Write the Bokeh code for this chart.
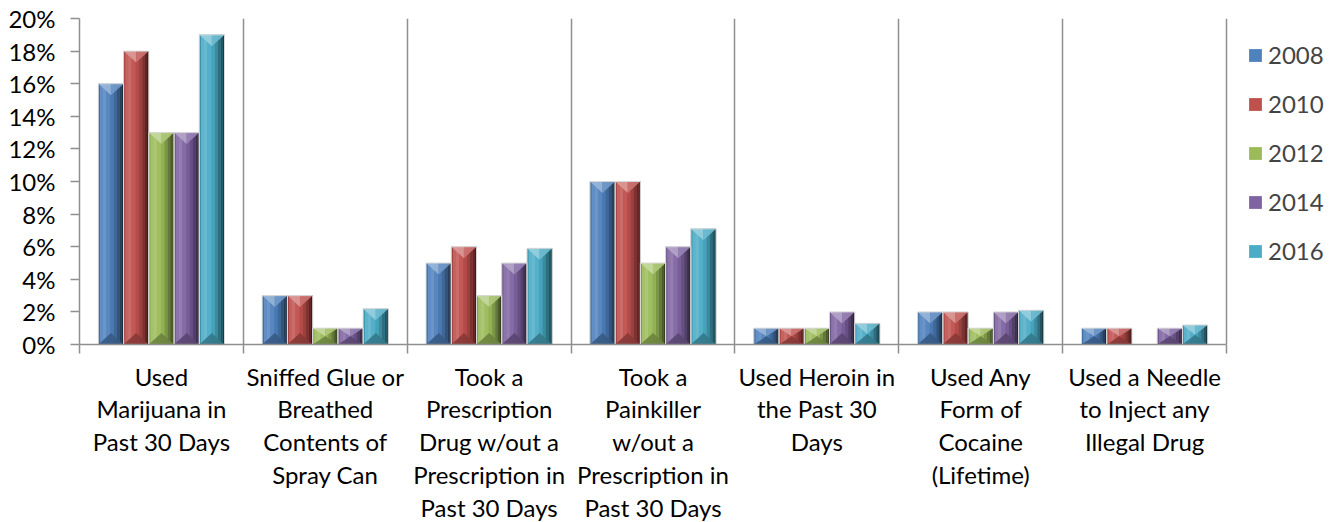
import numpy as np
from bokeh.plotting import figure
from bokeh.models import ColumnDataSource, FixedTicker, Legend, LegendItem
from bokeh.embed import file_html
from bokeh.resources import INLINE

# ---------------- data ----------------
categories = [
    "Used\nMarijuana in\nPast 30 Days",
    "Sniffed Glue or\nBreathed\nContents of\nSpray Can",
    "Took a\nPrescription\nDrug w/out a\nPrescription in\nPast 30 Days",
    "Took a\nPainkiller\nw/out a\nPrescription in\nPast 30 Days",
    "Used Heroin in\nthe Past 30\nDays",
    "Used Any\nForm of\nCocaine\n(Lifetime)",
    "Used a Needle\nto Inject any\nIllegal Drug",
]
years = ["2008", "2010", "2012", "2014", "2016"]
v2008 = [16, 3, 5, 10, 1, 2, 1]
v2010 = [18, 3, 6, 10, 1, 2, 1]
v2012 = [13, 1, 3, 5, 1, 1, 0]
v2014 = [13, 1, 5, 6, 2, 2, 1]
v2016 = [19, 2.2, 5.9, 7.1, 1.3, 2.1, 1.2]
series = [v2008, v2010, v2012, v2014, v2016]
colors = ["#4F81BD", "#C0504D", "#9BBB59", "#8064A2", "#4BACC6"]
y_ticks = list(range(0, 21, 2))

FONT = "Lato"
FS = "24px"
GRAY = "#8f8f8f"
CAT_PX = 1147          # pixel width of the 7 category slots
FW, FH = 1246, 326     # frame incl. room for the legend on the right
NCAT = len(categories)
x_end = -0.5 + FW / CAT_PX * NCAT


def blend(hexc, t):
    r, g, b = (int(hexc[i:i + 2], 16) for i in (1, 3, 5))
    if t >= 0:
        r, g, b = (c + (255 - c) * t for c in (r, g, b))
    else:
        r, g, b = (c * (1 + t) for c in (r, g, b))
    return "#%02x%02x%02x" % tuple(int(round(max(0, min(255, c)))) for c in (r, g, b))


p = figure(
    frame_width=FW, frame_height=FH,
    x_range=(-0.5, x_end), y_range=(0, 20),
    output_backend="svg", toolbar_location=None,
    min_border_left=79, min_border_top=18, min_border_right=0, min_border_bottom=0,
    outline_line_color=None, background_fill_color="white",
)

bar_w = 0.154
n = len(series)
strip_edges = [0, 0.07, 0.18, 0.32, 0.48, 0.62, 0.74, 0.85, 0.93, 1.0]
strip_shade = [-0.15, 0.10, 0.16, 0.05, -0.06, -0.2, -0.36, -0.52, -0.66]
tri_px = 11.5
y_per_px = 20 / float(FH)

legend_items = []
sx0, sx1, sy1, scol = [], [], [], []
txs, tys, tcol = [], [], []
for j, (vals, col) in enumerate(zip(series, colors)):
    xs = [i + (j - (n - 1) / 2) * bar_w for i in range(len(vals))]
    keep = [k for k, v in enumerate(vals) if v > 0]
    src = ColumnDataSource(dict(
        left=[xs[k] - bar_w / 2 for k in keep],
        right=[xs[k] + bar_w / 2 for k in keep],
        top=[vals[k] for k in keep],
    ))
    r = p.quad(left="left", right="right", bottom=0, top="top", source=src,
               fill_color=col, line_color=None)
    legend_items.append(LegendItem(label=years[j], renderers=[r]))
    for k in keep:
        v = vals[k]
        l = xs[k] - bar_w / 2
        for s in range(len(strip_shade)):
            sx0.append(l + strip_edges[s] * bar_w)
            sx1.append(l + strip_edges[s + 1] * bar_w)
            sy1.append(v)
            scol.append(blend(col, strip_shade[s]))
        h = min(tri_px * y_per_px, v / 2)
        rr = l + bar_w
        txs.append([l, xs[k], xs[k]]); tys.append([v, v, v - h]); tcol.append(blend(col, 0.42))
        txs.append([xs[k], rr, xs[k]]); tys.append([v, v, v - h]); tcol.append(blend(col, 0.2))
        txs.append([l, rr, xs[k]]); tys.append([0, 0, h]); tcol.append(blend(col, -0.3))

p.quad(left=sx0, right=sx1, bottom=0, top=sy1, fill_color=scol, line_color=None)
p.patches(xs=txs, ys=tys, fill_color=tcol, line_color=None, fill_alpha=0.9)
ol, orr, ot = [], [], []
for j, vals in enumerate(series):
    for i, v in enumerate(vals):
        if v > 0:
            c = i + (j - (n - 1) / 2) * bar_w
            ol.append(c - bar_w / 2); orr.append(c + bar_w / 2); ot.append(v)
p.quad(left=ol, right=orr, bottom=0, top=ot, fill_color=None,
       line_color="#d9d9d9", line_width=1)

# grid
p.ygrid.visible = False
p.xgrid.ticker = FixedTicker(ticks=[i + 0.5 for i in range(NCAT)])
p.xgrid.grid_line_color = GRAY
p.xgrid.grid_line_width = 1.5

# x axis
xa = p.xaxis[0]
xa.bounds = (-0.5, NCAT - 0.5)
xa.ticker = FixedTicker(ticks=list(range(NCAT)),
                        minor_ticks=[i - 0.5 for i in range(NCAT + 1)])
xa.major_label_overrides = {i: c for i, c in enumerate(categories)}
xa.major_tick_out = 0
xa.major_tick_in = 0
xa.minor_tick_out = 9
xa.minor_tick_in = 0
xa.minor_tick_line_color = GRAY
xa.minor_tick_line_width = 1.5
xa.axis_line_color = GRAY
xa.axis_line_width = 1.5
xa.major_label_standoff = 8
xa.major_label_text_font = FONT
xa.major_label_text_font_size = FS
xa.major_label_text_color = "black"
xa.major_label_text_line_height = 1.13
xa.major_label_orientation = "horizontal"

# y axis
ya = p.yaxis[0]
ya.ticker = FixedTicker(ticks=y_ticks)
ya.major_label_overrides = {t: f"{t}%" for t in y_ticks}
ya.major_tick_out = 9
ya.major_tick_in = 0
ya.minor_tick_out = 0
ya.minor_tick_in = 0
ya.major_tick_line_color = GRAY
ya.major_tick_line_width = 1.5
ya.axis_line_color = GRAY
ya.axis_line_width = 1.5
ya.major_label_standoff = 15
ya.major_label_text_font = FONT
ya.major_label_text_font_size = FS
ya.major_label_text_color = "black"

legend = Legend(items=legend_items, location=(CAT_PX + 21, 79),
                label_text_font=FONT, label_text_font_size=FS,
                glyph_width=16, glyph_height=16, label_standoff=5,
                spacing=20, padding=0, margin=0,
                border_line_color=None, background_fill_alpha=0)
p.add_layout(legend, "center")

open("out.html", "w").write(file_html(p, INLINE))
